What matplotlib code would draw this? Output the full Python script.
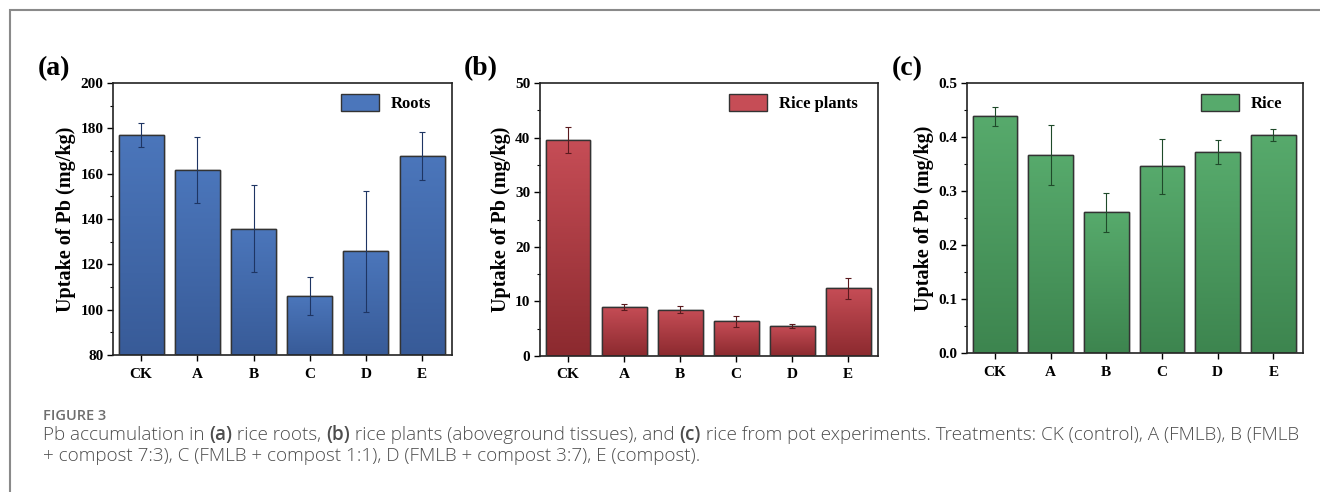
import numpy as np
import matplotlib
matplotlib.use('Agg')
import matplotlib.pyplot as plt
from matplotlib.colors import LinearSegmentedColormap
from matplotlib.patches import Rectangle, Patch

plt.rcParams['font.family'] = ['Liberation Serif', 'DejaVu Serif']
plt.rcParams['font.weight'] = 'bold'

treatments = ['CK', 'A', 'B', 'C', 'D', 'E']

roots = [177.2, 161.6, 135.7, 106.0, 125.7, 167.8]
roots_err = [5.3, 14.7, 19.3, 8.3, 26.8, 10.7]

plants = [39.6, 9.0, 8.5, 6.4, 5.5, 12.4]
plants_err = [2.4, 0.5, 0.6, 1.0, 0.4, 1.9]

rice = [0.438, 0.367, 0.261, 0.346, 0.372, 0.404]
rice_err = [0.018, 0.056, 0.036, 0.051, 0.022, 0.011]

panels = [
    ('(a)', roots, roots_err, 'Roots', (80, 200), 20, 10, '%d',
     '#4b76bb', '#385b98', '#1e3563'),
    ('(b)', plants, plants_err, 'Rice plants', (0, 50), 10, 5, '%d',
     '#c64d56', '#8c2a2f', '#5a1a1e'),
    ('(c)', rice, rice_err, 'Rice', (0, 0.5), 0.1, 0.05, '%.1f',
     '#57aa6c', '#3d854f', '#1f4a2a'),
]

W, H = 1320, 492
fig = plt.figure(figsize=(W / 100, H / 100), dpi=100)

# axes boxes in pixels: left, top, right, bottom
boxes = [(113, 83, 452, 355), (540, 83, 878, 356), (967, 83, 1303, 353)]
label_x = [54, 481, 907]

for (lab, vals, errs, name, ylim, major, minor, fmt, ctop, cbot, cerr), box, lx in zip(panels, boxes, label_x):
    l, t, r, b = box
    ax = fig.add_axes([l / W, 1 - b / H, (r - l) / W, (b - t) / H])
    x = np.arange(len(treatments))
    bars = ax.bar(x, vals, width=0.8, color=cbot, edgecolor='#333333', linewidth=1.0, zorder=2)
    cmap = LinearSegmentedColormap.from_list('g', [cbot, ctop])
    grad = np.linspace(0, 1, 100).reshape(-1, 1)
    for bar in bars:
        bx, by = bar.get_x(), bar.get_y()
        bw, bh = bar.get_width(), bar.get_height()
        im = ax.imshow(grad, cmap=cmap, origin='lower', aspect='auto',
                       extent=[bx, bx + bw, ylim[0], by + bh], zorder=2.5)
        im.set_clip_path(bar)
    # redraw edges on top
    ax.bar(x, vals, width=0.8, color='none', edgecolor='#333333', linewidth=1.0, zorder=3)
    ax.errorbar(x, vals, yerr=errs, fmt='none', ecolor=cerr, elinewidth=0.8,
                capsize=2.5, capthick=0.8, zorder=4)
    ax.set_xlim(-0.5, 5.53)
    ax.set_ylim(*ylim)
    ax.set_yticks(np.arange(ylim[0], ylim[1] + major / 2, major))
    ax.set_yticks(np.arange(ylim[0], ylim[1] + minor / 2, minor), minor=True)
    ax.yaxis.set_major_formatter(plt.FormatStrFormatter(fmt))
    ax.set_xticks(x)
    ax.set_xticklabels(treatments)
    ax.tick_params(axis='both', which='major', direction='out', length=4, width=1.0,
                   labelsize=11, pad=3)
    ax.tick_params(axis='x', which='major', pad=5)
    ax.tick_params(axis='y', which='minor', direction='out', length=2.5, width=0.8)
    for s in ax.spines.values():
        s.set_linewidth(1.2)
        s.set_color('#222222')
    ax.set_ylabel('Uptake of Pb (mg/kg)', fontsize=14.5, fontweight='bold', labelpad=3)
    ax.legend([Patch(facecolor=ctop, edgecolor='#333333', linewidth=1.0)], [name],
              loc='upper right', frameon=False, fontsize=12, handlelength=2.3,
              handleheight=1.2, handletextpad=0.7, borderaxespad=0,
              bbox_to_anchor=(1 - 14 / (r - l), 1 - 4 / (b - t)))
    fig.text(lx / W, 1 - 69 / H, lab, fontsize=20, fontweight='bold',
             ha='center', va='center')

# figure frame
fig.patches.append(Rectangle((10 / W, -0.1), 1.2, 1 - 10 / H + 0.1, transform=fig.transFigure,
                             fill=False, edgecolor='#8a8a8a', linewidth=1.5))

# caption
cap_font = ['Open Sans', 'DejaVu Sans']
fig.text(43 / W, 1 - 416 / H, 'FIGURE 3', family=cap_font, fontsize=10.5,
         fontweight='semibold', color='#6e6e6e', va='center')

renderer = fig.canvas.get_renderer()


def rich_line(x0, y0, parts, size):
    xp = x0
    made = []
    for txt, bold in parts:
        tt = fig.text(xp / W, 1 - y0 / H, txt, family=cap_font, fontsize=size,
                      fontweight='semibold' if bold else 'light', color='#4d4d4d',
                      va='baseline')
        made.append(tt)
        xp = tt.get_window_extent(renderer=renderer).x1
    return made, xp


line1 = [('Pb accumulation in ', False), ('(a)', True), (' rice roots, ', False),
         ('(b)', True), (' rice plants (aboveground tissues), and ', False), ('(c)', True),
         (' rice from pot experiments. Treatments: CK (control), A (FMLB), B (FMLB', False)]
line2 = [('+ compost 7:3), C (FMLB + compost 1:1), D (FMLB + compost 3:7), E (compost).', False)]

# fit the first caption line to the width it has in the figure
made, xend = rich_line(43, 440, line1, 10)
for m in made:
    m.remove()
size = 10 * (1300 - 43) / (xend - 43)
rich_line(43, 440, line1, size)
rich_line(43, 461, line2, size)

fig.savefig('out.png', dpi=100)
